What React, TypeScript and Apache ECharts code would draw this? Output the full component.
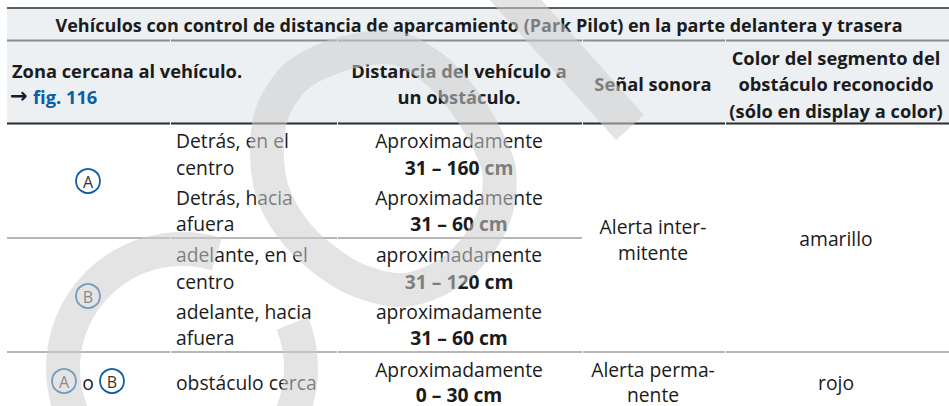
import React, { useEffect, useRef } from "react";
import * as echarts from "echarts";

// ---------- data ----------
const TITLE = "Vehículos con control de distancia de aparcamiento (Park Pilot) en la parte delantera y trasera";
const HEADER_ZONE = ["Zona cercana al vehículo.", "→", "fig. 116"];
const HEADER_DIST = ["Distancia del vehículo a", "un obstáculo."];
const HEADER_SIGNAL = ["Señal sonora"];
const HEADER_COLOR = ["Color del segmento del", "obstáculo reconocido", "(sólo en display a color)"];
const ZONE_MARKS = ["A", "B"];
const ZONE_JOIN = "o";
const POSITIONS = [
  ["Detrás, en el", "centro"],
  ["Detrás, hacia", "afuera"],
  ["adelante, en el", "centro"],
  ["adelante, hacia", "afuera"],
  ["obstáculo cerca"],
];
const DIST_LABELS = ["Aproximadamente", "Aproximadamente", "aproximadamente", "aproximadamente", "Aproximadamente"];
const DIST_RANGES = ["31 – 160 cm", "31 – 60 cm", "31 – 120 cm", "31 – 60 cm", "0 – 30 cm"];
const SIGNALS = [["Alerta inter-", "mitente"], ["Alerta perma-", "nente"]];
const SEGMENT_COLORS = ["amarillo", "rojo"];

// ---------- layout / style ----------
const FONT = '"Open Sans", "Noto Sans", sans-serif';
const TEXT = "#1b1b1b";
const BLUE = "#0b5ea6";
const HEAD_BG = "#ecf0f3";
const X0 = 7;
const X1 = 949;
const COLS = [X0, 170, 337, 582, 725, X1];
const COL_CENTER = [88, 176, 459, 653, 836];
const ROW_LINES = [140, 167, 197, 223, 254, 281, 311, 337, 369, 394];
const TITLE_SIZE = 18.0;
const HEAD_SIZE = 18.3;
const BODY_SIZE = 19.3;
const WM = "rgb(205,205,205)";
const WM_OPACITY = 0.55;

function txt(text: string, x: number, y: number, size: number, bold: boolean, align: string, fill = TEXT, family = FONT) {
  return {
    type: "text",
    x,
    y,
    z: 5,
    silent: true,
    style: {
      text,
      fontSize: size,
      fontWeight: bold ? "bold" : "normal",
      fontFamily: family,
      lineHeight: Math.round(size * 1.05),
      fill,
      textAlign: align,
      align,
      textVerticalAlign: "middle",
      verticalAlign: "middle",
    },
  };
}

function hline(y: number, x1: number, x2: number, color: string, w: number) {
  return {
    type: "line",
    z: 4,
    silent: true,
    shape: { x1, y1: y, x2, y2: y },
    style: { stroke: color, lineWidth: w },
  };
}

function segLine(y: number, fromCol: number, toCol: number, color: string, w: number) {
  const out: any[] = [];
  for (let c = fromCol; c < toCol; c++) {
    const a = COLS[c] + (c === 0 ? 0 : 1);
    const b = COLS[c + 1];
    out.push(hline(y, a, b, color, w));
  }
  return out;
}

function marker(letter: string, cx: number, cy: number) {
  return [
    {
      type: "circle",
      z: 5,
      silent: true,
      shape: { cx, cy, r: 12 },
      style: { fill: "none", stroke: BLUE, lineWidth: 1.8 },
    },
    txt(letter, cx, cy + 0.5, 16, false, "center", "#333"),
  ];
}

function buildElements() {
  const els: any[] = [];
  // backgrounds
  els.push({ type: "rect", z: 1, silent: true, shape: { x: X0, y: 8, width: X1 - X0, height: 115 }, style: { fill: HEAD_BG } });
  // lines
  els.push(hline(8, X0, X1, "#2b2b2b", 1.6));
  els.push(...segLine(40.5, 0, 5, "#8c8c8c", 2));
  els.push(...segLine(123.5, 0, 5, "#2b2b2b", 1.8));
  els.push(...segLine(238, 0, 3, "#6f6f6f", 1.2));
  els.push(...segLine(352, 0, 5, "#6f6f6f", 1.2));

  // title
  els.push(txt(TITLE, 479, 25, TITLE_SIZE, true, "center"));

  // header
  els.push(txt(HEADER_ZONE[0], 12, 70, HEAD_SIZE, true, "left"));
  els.push(txt(HEADER_ZONE[1], 10, 96, 21, true, "left", TEXT, '"DejaVu Sans", sans-serif'));
  els.push(txt(HEADER_ZONE[2], 33, 96, HEAD_SIZE, true, "left", BLUE));
  HEADER_DIST.forEach((s, i) => els.push(txt(s, COL_CENTER[2], 70 + i * 26.5, HEAD_SIZE, true, "center")));
  HEADER_SIGNAL.forEach((s) => els.push(txt(s, COL_CENTER[3], 83, HEAD_SIZE, true, "center")));
  HEADER_COLOR.forEach((s, i) => els.push(txt(s, COL_CENTER[4], 57 + i * 26.5, HEAD_SIZE, true, "center")));

  // zone markers
  els.push(...marker(ZONE_MARKS[0], 88, 181));
  els.push(...marker(ZONE_MARKS[1], 88, 296));
  els.push(...marker(ZONE_MARKS[0], 64, 381));
  els.push(txt(ZONE_JOIN, 88, 382, BODY_SIZE, false, "center"));
  els.push(...marker(ZONE_MARKS[1], 112, 381));

  // positions + distances
  POSITIONS.forEach((lines, r) => {
    const y1 = ROW_LINES[r * 2];
    const y2 = ROW_LINES[r * 2 + 1];
    if (lines.length === 2) {
      els.push(txt(lines[0], COL_CENTER[1], y1, BODY_SIZE, false, "left"));
      els.push(txt(lines[1], COL_CENTER[1], y2, BODY_SIZE, false, "left"));
    } else {
      els.push(txt(lines[0], COL_CENTER[1], 382, BODY_SIZE, false, "left"));
    }
    els.push(txt(DIST_LABELS[r], COL_CENTER[2], y1, BODY_SIZE, false, "center"));
    els.push(txt(DIST_RANGES[r], COL_CENTER[2], y2, BODY_SIZE, true, "center"));
  });

  // signals
  els.push(txt(SIGNALS[0][0], COL_CENTER[3], 226, BODY_SIZE, false, "center"));
  els.push(txt(SIGNALS[0][1], COL_CENTER[3], 252.5, BODY_SIZE, false, "center"));
  els.push(txt(SIGNALS[1][0], COL_CENTER[3], 369, BODY_SIZE, false, "center"));
  els.push(txt(SIGNALS[1][1], COL_CENTER[3], 394, BODY_SIZE, false, "center"));

  // segment colours
  els.push(txt(SEGMENT_COLORS[0], COL_CENTER[4], 238, BODY_SIZE, false, "center"));
  els.push(txt(SEGMENT_COLORS[1], COL_CENTER[4], 382, BODY_SIZE, false, "center"));

  // watermark (drawn on top, semi-transparent)
  els.push({
    type: "polygon",
    z: 20,
    silent: true,
    shape: {
      points: [
        [395, 48], [433, 68], [461, 97], [485, 135], [499, 170], [496, 210],
        [478, 245], [448, 274], [405, 290], [360, 281], [322, 258], [292, 228],
        [272, 190], [267, 145], [274, 108], [298, 75], [345, 53],
      ],
      smooth: 0.3,
    },
    style: { fill: "none", stroke: WM, lineWidth: 34, opacity: WM_OPACITY },
  });
  els.push({
    type: "polygon",
    z: 20,
    silent: true,
    shape: { points: [[486, -4], [538, -4], [644, 115], [616, 140]] },
    style: { fill: WM, opacity: WM_OPACITY },
  });
  els.push({
    type: "arc",
    z: 20,
    silent: true,
    shape: { cx: 182, cy: 368, r: 119, startAngle: (-22 * Math.PI) / 180, endAngle: (287 * Math.PI) / 180, clockwise: true },
    style: { fill: "none", stroke: WM, lineWidth: 34, lineCap: "butt", opacity: WM_OPACITY },
  });
  return els;
}

export default function App() {
  const ref = useRef<HTMLDivElement>(null);
  useEffect(() => {
    if (!ref.current) return;
    const chart = echarts.init(ref.current, null, { renderer: "svg" });
    chart.setOption({
      animation: false,
      backgroundColor: "#ffffff",
      graphic: { elements: buildElements() },
    });
    return () => chart.dispose();
  }, []);
  return (
    <div
      ref={ref}
      style={{ position: "absolute", left: 0, top: 0, width: 949, height: 406, background: "#fff" }}
    />
  );
}
